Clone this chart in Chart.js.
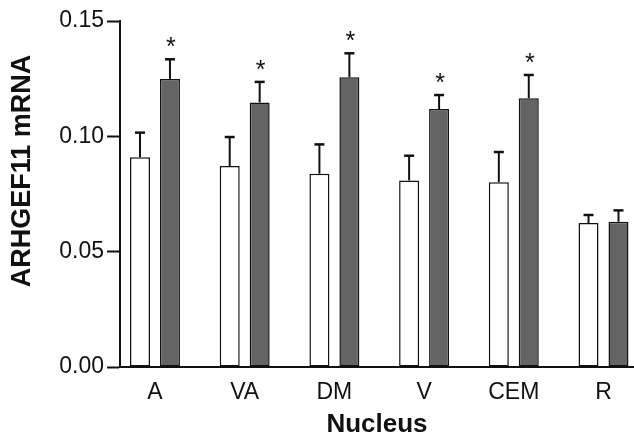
<!DOCTYPE html>
<html>
<head>
<meta charset="utf-8">
<script src="https://cdn.jsdelivr.net/npm/chart.js@4/dist/chart.umd.min.js"></script>
<style>
  html, body { margin: 0; padding: 0; background: #fff; }
  #wrap { width: 634px; height: 438px; }
</style>
</head>
<body>
<div id="wrap"><canvas id="c" width="634" height="438"></canvas></div>
<script>
// ---- data ----
const categories = ['A', 'VA', 'DM', 'V', 'CEM', 'R'];
const controlMeans = [0.0909, 0.0871, 0.0838, 0.0809, 0.0801, 0.0624];
const controlErrors = [0.0107, 0.0126, 0.0127, 0.0107, 0.0131, 0.0035];
const treatedMeans = [0.1249, 0.1147, 0.1256, 0.1118, 0.1165, 0.0630];
const treatedErrors = [0.0085, 0.0089, 0.0104, 0.0061, 0.0101, 0.0049];
const significant = [true, true, true, true, true, false];
const yTickValues = [0, 0.05, 0.10, 0.15];
const yTitle = 'ARHGEF11 mRNA';
const xTitle = 'Nucleus';

const FONT = "'Liberation Sans', Arial, Helvetica, sans-serif";

const toPoints = arr => arr.map((v, i) => ({ x: i, y: v }));

const errorBarPlugin = {
  id: 'errorBars',
  afterDatasetsDraw(chart) {
    const ctx = chart.ctx;
    const yScale = chart.scales.y;
    chart.data.datasets.forEach((ds, di) => {
      const meta = chart.getDatasetMeta(di);
      meta.data.forEach((el, i) => {
        const top = yScale.getPixelForValue(ds.data[i].y + ds.errors[i]);
        ctx.save();
        ctx.strokeStyle = '#111';
        ctx.lineWidth = 2;
        ctx.beginPath();
        ctx.moveTo(el.x, el.y);
        ctx.lineTo(el.x, top);
        ctx.stroke();
        ctx.lineWidth = 2.5;
        ctx.beginPath();
        ctx.moveTo(el.x - 5, top);
        ctx.lineTo(el.x + 5, top);
        ctx.stroke();
        if (ds.stars && ds.stars[i]) {
          ctx.fillStyle = '#111';
          ctx.font = '25px ' + FONT;
          ctx.textAlign = 'center';
          ctx.textBaseline = 'alphabetic';
          ctx.fillText('*', el.x + 1, top - 4);
        }
        ctx.restore();
      });
    });
  }
};

const yTitlePlugin = {
  id: 'yTitle',
  afterDraw(chart) {
    const ctx = chart.ctx;
    ctx.save();
    ctx.translate(23, 171);
    ctx.rotate(-Math.PI / 2);
    ctx.fillStyle = '#111';
    ctx.font = 'bold 27px ' + FONT;
    ctx.textAlign = 'center';
    ctx.textBaseline = 'middle';
    ctx.fillText(yTitle, 0, 0);
    ctx.restore();
  }
};

new Chart(document.getElementById('c'), {
  type: 'bar',
  data: {
    datasets: [
      {
        label: 'Control',
        data: toPoints(controlMeans),
        errors: controlErrors,
        stars: null,
        backgroundColor: '#ffffff',
        borderColor: '#111',
        borderWidth: 1.5,
        borderSkipped: false
      },
      {
        label: 'Treated',
        data: toPoints(treatedMeans),
        errors: treatedErrors,
        stars: significant,
        backgroundColor: '#646464',
        borderColor: '#111',
        borderWidth: 1.5,
        borderSkipped: false
      }
    ]
  },
  options: {
    responsive: false,
    animation: false,
    devicePixelRatio: 1,
    categoryPercentage: 0.668,
    barPercentage: 0.667,
    layout: { padding: { top: 21, right: 0, bottom: 0, left: 0 } },
    plugins: { legend: { display: false }, tooltip: { enabled: false } },
    scales: {
      x: {
        type: 'linear',
        offset: false,
        min: -0.39,
        max: 5.34,
        afterBuildTicks(axis) { axis.ticks = categories.map((c, i) => ({ value: i })); },
        afterFit(scale) { scale.height = 71; },
        grid: { display: false, drawTicks: false, offset: false },
        border: { display: true, color: '#111', width: 2 },
        ticks: {
          padding: 12,
          color: '#111',
          font: { family: FONT, size: 23 },
          maxRotation: 0,
          autoSkip: false,
          callback: (v) => categories[v]
        },
        title: {
          display: true,
          text: xTitle,
          color: '#111',
          font: { family: FONT, size: 26, weight: 'bold', lineHeight: 1 },
          padding: { top: 0, bottom: 0 }
        }
      },
      y: {
        min: 0,
        max: 0.15,
        afterBuildTicks(axis) { axis.ticks = yTickValues.map(v => ({ value: v })); },
        afterFit(scale) { scale.width = 120; },
        grid: { drawOnChartArea: false, drawTicks: true, tickLength: 13, tickColor: '#111', tickWidth: 2 },
        border: { display: true, color: '#111', width: 2 },
        ticks: {
          padding: 3,
          color: '#111',
          font: { family: FONT, size: 23 },
          callback: (v) => Number(v).toFixed(2)
        }
      }
    }
  },
  plugins: [errorBarPlugin, yTitlePlugin]
});
</script>
</body>
</html>
